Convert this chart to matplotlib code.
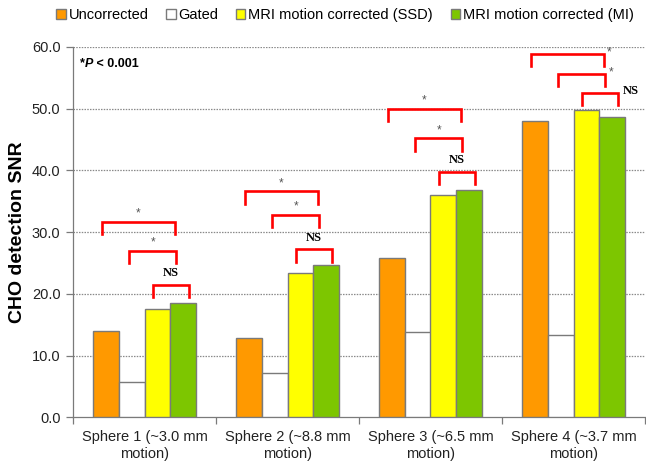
import matplotlib
matplotlib.use("Agg")
import matplotlib.pyplot as plt
import numpy as np

plt.rcParams["font.family"] = ["Liberation Sans", "DejaVu Sans"]

categories = ["Sphere 1 (~3.0 mm\nmotion)", "Sphere 2 (~8.8 mm\nmotion)",
              "Sphere 3 (~6.5 mm\nmotion)", "Sphere 4 (~3.7 mm\nmotion)"]
series_names = ["Uncorrected", "Gated", "MRI motion corrected (SSD)", "MRI motion corrected (MI)"]
uncorrected = [14.0, 12.9, 25.8, 48.0]
gated = [5.8, 7.2, 13.8, 13.3]
mri_ssd = [17.5, 23.4, 36.0, 49.8]
mri_mi = [18.6, 24.6, 36.8, 48.6]
y_ticks = [0, 10, 20, 30, 40, 50, 60]

# significance brackets: heights of (uncorrected vs SSD, gated vs SSD, SSD vs MI)
bracket_top = [31.7, 36.6, 50.0, 58.9]
bracket_mid = [27.0, 32.8, 45.2, 55.6]
bracket_ns = [21.5, 27.2, 39.8, 52.6]
bracket_labels = ["*", "*", "NS"]

colors = ["#FF9900", "#FFFFFF", "#FFFF00", "#7DC600"]
edge = "#7a7a7a"

fig = plt.figure(figsize=(6.46, 4.68), dpi=100)
ax = fig.add_axes([73 / 646, 1 - 417.3 / 468, 572 / 646, (417.3 - 47) / 468])

x = np.arange(len(categories))
bw = 0.18
offsets = np.array([-1.5, -0.5, 0.5, 1.5]) * bw
for vals, off, col, name in zip([uncorrected, gated, mri_ssd, mri_mi], offsets, colors, series_names):
    ax.bar(x + off, vals, width=bw, color=col, edgecolor=edge, linewidth=1.0, label=name, zorder=3)

ax.set_xlim(-0.5, len(categories) - 0.5)
ax.set_ylim(0, 60)
ax.set_yticks(y_ticks)
ax.set_yticklabels([f"{v:.1f}" for v in y_ticks], fontsize=10.5, color="#222222")
for v in y_ticks[1:]:
    ax.axhline(v, color="#8a8a8a", lw=0.9, ls=(0, (1.2, 1.0)), zorder=1)

ax.set_xticks(x)
ax.set_xticklabels(categories, fontsize=10.5, color="#222222", linespacing=1.3)
ax.tick_params(axis="x", which="major", length=0, pad=9)
ax.set_xticks(np.arange(-0.5, len(categories)), minor=True)
ax.tick_params(axis="x", which="minor", length=5, color=edge, width=0.9)
ax.tick_params(axis="y", length=5, color=edge, width=0.9, pad=4)

for s in ["top", "right"]:
    ax.spines[s].set_visible(False)
for s in ["left", "bottom"]:
    ax.spines[s].set_color(edge)
    ax.spines[s].set_linewidth(0.9)

ax.set_ylabel("CHO detection SNR", fontsize=14, fontweight="bold", labelpad=4)

# brackets
spans = [(-0.295, 0.21), (-0.105, 0.22), (0.06, 0.31)]
leg = 2.0
red = "#FF0000"
for gi in range(len(categories)):
    heights = [bracket_top[gi], bracket_mid[gi], bracket_ns[gi]]
    for (a, b), h, lab in zip(spans, heights, bracket_labels):
        xa, xb = gi + a, gi + b
        ax.plot([xa, xa, xb, xb], [h - leg, h, h, h - leg], color=red, lw=1.9,
                solid_joinstyle="miter", zorder=4, clip_on=False)
        if gi == len(categories) - 1:
            if lab == "NS":
                ax.text(xb + 0.035, h + 0.2, lab, fontsize=9, fontweight="bold",
                        family="Liberation Serif", ha="left", va="center", zorder=5)
            else:
                ax.text(xb + 0.04, h + 0.2, lab, fontsize=8.5, color="#555555",
                        ha="center", va="center", zorder=5)
        else:
            if lab == "NS":
                ax.text((xa + xb) / 2, h + 1.9, lab, fontsize=9, fontweight="bold",
                        family="Liberation Serif", ha="center", va="center", zorder=5)
            else:
                ax.text((xa + xb) / 2, h + 1.3, lab, fontsize=8.5, color="#555555",
                        ha="center", va="center", zorder=5)

# p-value note
t1 = ax.text(0.012, 0.955, "*", transform=ax.transAxes, fontsize=9, fontweight="bold",
             ha="left", va="center")
fig.canvas.draw()
r = fig.canvas.get_renderer()
bb = t1.get_window_extent(r)
inv = ax.transAxes.inverted()
x1 = inv.transform((bb.x1, bb.y0))[0]
t2 = ax.text(x1, 0.955, "P", transform=ax.transAxes, fontsize=9, fontweight="bold",
             style="italic", ha="left", va="center")
bb2 = t2.get_window_extent(r)
x2 = inv.transform((bb2.x1, bb2.y0))[0]
ax.text(x2, 0.955, " < 0.001", transform=ax.transAxes, fontsize=9, fontweight="bold",
        ha="left", va="center")

fig.legend(loc="center", bbox_to_anchor=(345 / 646, 1 - 15 / 468), ncol=4, frameon=False,
           fontsize=10.5, handlelength=0.65, handleheight=0.65, handletextpad=0.2,
           columnspacing=1.2, borderaxespad=0)

fig.savefig("out.png", dpi=100)
